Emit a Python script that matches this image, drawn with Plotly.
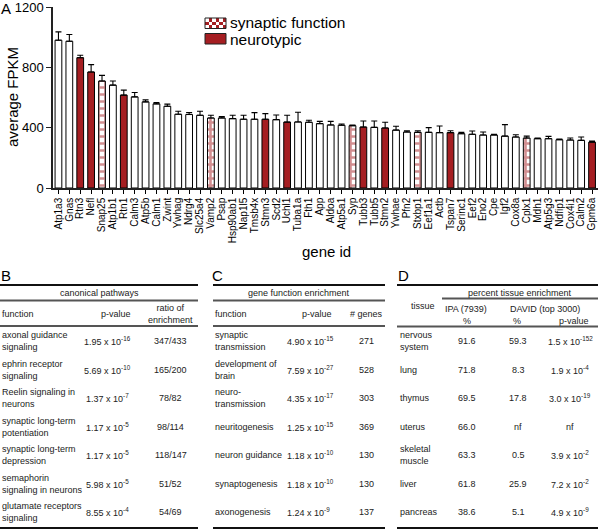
import plotly.graph_objects as go

W, H = 600, 529

# ---------------- data: panel A ----------------
genes = ["Atp1a3", "Gnas", "Rtn3", "Nefl", "Snap25", "Atp1b1", "Rtn1", "Calm3", "Atp5b", "Calm1",
         "Zwint", "Ywhag", "Ndrg4", "Slc25a4", "Vamp2", "Psap", "Hsp90ab1", "Nap1l5", "Tmsb4x", "Stmn3",
         "Scd2", "Uchl1", "Tuba1a", "Fth1", "App", "Aldoa", "Atp5a1", "Syp", "Tubb3", "Tubb5",
         "Stmn2", "Ywhae", "Pfn2", "Stxbp1", "Eef1a1", "Actb", "Tspan7", "Serinc1", "Eef2", "Eno2",
         "Cpe", "Igf2", "Cox8a", "Cplx1", "Mdh1", "Atp5g3", "Ndfip1", "Cox4i1", "Calm2", "Gpm6a"]
fpkm = [980, 973, 864, 769, 709, 682, 616, 604, 571, 558,
        542, 489, 487, 482, 464, 464, 460, 456, 456, 456,
        453, 437, 438, 436, 427, 418, 416, 413, 404, 402,
        398, 384, 371, 369, 369, 367, 367, 360, 356, 351,
        351, 344, 338, 331, 327, 327, 320, 318, 316, 304]
sem = [55, 45, 16, 49, 38, 27, 33, 29, 13, 9,
       14, 20, 13, 27, 18, 9, 22, 26, 44, 37,
       31, 45, 64, 13, 15, 24, 8, 5, 40, 42,
       38, 25, 9, 11, 31, 44, 13, 9, 22, 20,
       5, 76, 15, 13, 4, 15, 4, 13, 22, 7]
synaptic_genes = ["Snap25", "Vamp2", "Syp", "Stxbp1", "Cplx1"]
neurotypic_genes = ["Rtn3", "Nefl", "Rtn1", "Stmn3", "Uchl1", "Tubb3", "Stmn2", "Tspan7", "Gpm6a"]
y_ticks = [0, 400, 800, 1200]

# ---------------- data: tables ----------------
B_function = ["axonal guidance<br>signaling", "ephrin receptor<br>signaling", "Reelin signaling in<br>neurons",
              "synaptic long-term<br>potentiation", "synaptic long-term<br>depression",
              "semaphorin<br>signaling in neurons", "glutamate receptors<br>signaling"]
B_pmant = ["1.95", "5.69", "1.37", "1.17", "1.17", "5.98", "8.55"]
B_pexp = ["-16", "-10", "-7", "-5", "-5", "-5", "-4"]
B_ratio = ["347/433", "165/200", "78/82", "98/114", "118/147", "51/52", "54/69"]

C_function = ["synaptic<br>transmission", "development of<br>brain", "neuro-<br>transmission",
              "neuritogenesis", "neuron guidance", "synaptogenesis", "axonogenesis"]
C_pmant = ["4.90", "7.59", "4.35", "1.25", "1.18", "1.18", "1.24"]
C_pexp = ["-15", "-27", "-17", "-15", "-10", "-10", "-9"]
C_genes = ["271", "528", "303", "369", "130", "130", "137"]

D_tissue = ["nervous<br>system", "lung", "thymus", "uterus", "skeletal<br>muscle", "liver", "pancreas"]
D_ipa = ["91.6", "71.8", "69.5", "66.0", "63.3", "61.8", "38.6"]
D_david = ["59.3", "8.3", "17.8", "nf", "0.5", "25.9", "5.1"]
D_pmant = ["1.5", "1.9", "3.0", "nf", "3.9", "7.2", "4.9"]
D_pexp = ["-152", "-4", "-19", "", "-2", "-2", "-9"]

RED = "#A51E22"
FONT = "Liberation Sans, Arial, sans-serif"
TXT = "#222222"
TFS = 9  # table font size


def px(x):
    return x / W


def py(y):
    return 1 - y / H


def subset(names):
    idx = [i for i, g in enumerate(genes) if g in names]
    return ([genes[i] for i in idx], [fpkm[i] for i in idx], [sem[i] for i in idx])


other_genes = [g for g in genes if g not in synaptic_genes and g not in neurotypic_genes]

fig = go.Figure()

bar_w = 0.62
err_style = dict(type="data", symmetric=False, color="black", thickness=1.1, width=3)

for names, kind in [(other_genes, "other"), (neurotypic_genes, "neuro"), (synaptic_genes, "syn")]:
    xs, ys, es = subset(names)
    if kind == "other":
        marker = dict(color="white", line=dict(color="black", width=1))
    elif kind == "neuro":
        marker = dict(color=RED, line=dict(color="black", width=1))
    else:
        marker = dict(color="white", line=dict(color="black", width=1),
                      pattern=dict(shape="+", fgcolor=RED, bgcolor="white", size=7, solidity=0.6))
    fig.add_trace(go.Bar(x=xs, y=ys, width=bar_w, marker=marker,
                         error_y=dict(array=es, arrayminus=[0] * len(es), **err_style),
                         hoverinfo="skip", showlegend=False))

# legend checker swatch as a tiny heatmap
checker = [[(r + c) % 2 for c in range(6)] for r in range(3)]
fig.add_trace(go.Heatmap(z=checker, xaxis="x2", yaxis="y2", showscale=False,
                         colorscale=[[0, "white"], [1, RED]], hoverinfo="skip"))

fig.update_layout(
    width=W, height=H, margin=dict(l=0, r=0, t=0, b=0),
    paper_bgcolor="white", plot_bgcolor="white", showlegend=False,
    barmode="overlay", font=dict(family=FONT, color="black"),
    xaxis=dict(domain=[px(53), px(597.5)], type="category", categoryorder="array",
               categoryarray=genes, range=[-0.5, len(genes) - 0.5],
               tickmode="linear", tick0=0, dtick=1,
               tickangle=-90, tickfont=dict(size=10, color="black", family=FONT),
               ticks="outside", ticklen=4, tickwidth=1, tickcolor="black",
               showline=True, linecolor="#222", linewidth=1.5, showgrid=False,
               automargin=False, fixedrange=True, ticklabeloverflow="allow"),
    yaxis=dict(domain=[py(188), py(7)], range=[0, 1200], tickvals=y_ticks,
               tickfont=dict(size=13, color="black", family=FONT),
               ticks="outside", ticklen=5, tickwidth=1.2, tickcolor="#222",
               showline=True, linecolor="#222", linewidth=1.5, showgrid=False,
               zeroline=False, automargin=False, fixedrange=True, ticklabeloverflow="allow"),
    xaxis2=dict(domain=[px(205), px(226)], anchor="y2", visible=False, fixedrange=True),
    yaxis2=dict(domain=[py(28.5), py(18)], anchor="x2", visible=False, fixedrange=True),
)

ann = []
shapes = []


def text(x, y, s, size=TFS, xanchor="center", align="center", color=TXT, angle=0):
    ann.append(dict(x=px(x), y=py(y), xref="paper", yref="paper", text=s, showarrow=False,
                    xanchor=xanchor, yanchor="middle", align=align, textangle=angle,
                    font=dict(size=size, color=color, family=FONT), borderpad=0))


def hline(x0, x1, y, color="#333", width=2):
    shapes.append(dict(type="line", xref="paper", yref="paper", x0=px(x0), x1=px(x1),
                       y0=py(y), y1=py(y), line=dict(color=color, width=width)))


def sci(m, e):
    if e == "":
        return m
    return f"{m} x 10<sup>{e}</sup>"


# panel A labels
text(6, 8, "A", size=15, color="black")
text(13, 97, "average FPKM", size=15, color="black", angle=-90)
text(326, 251, "gene id", size=15, color="black")

# legend
shapes.append(dict(type="rect", xref="paper", yref="paper", x0=px(205), x1=px(226),
                   y0=py(28.5), y1=py(18), line=dict(color="#222", width=1)))
shapes.append(dict(type="rect", xref="paper", yref="paper", x0=px(205), x1=px(226),
                   y0=py(44), y1=py(33.5), fillcolor=RED, line=dict(color="#222", width=1)))
text(229, 23, "synaptic function", size=15.5, xanchor="left", color="black")
text(229, 39, "neurotypic", size=15.5, xanchor="left", color="black")

# panel letters
text(6, 275, "B", size=15, color="black")
text(217, 275, "C", size=15, color="black")
text(403, 275, "D", size=15, color="black")

row_y = [341 + 28.5 * i for i in range(7)]

# ---- table B ----
hline(0, 198, 285, color="#111", width=2)
text(99, 293, "canonical pathways")
hline(0, 198, 300.5, color="#555", width=2)
text(1, 314, "function", xanchor="left", align="left")
text(116, 314, "p-value")
text(171, 313.5, "ratio of<br>enrichment")
hline(0, 198, 326, color="#555", width=2)
for i in range(7):
    text(1, row_y[i], B_function[i], xanchor="left", align="left")
    text(107, row_y[i], sci(B_pmant[i], B_pexp[i]))
    text(171, row_y[i], B_ratio[i])
hline(0, 198, 528, color="#111", width=2)

# ---- table C ----
hline(213, 385, 285, color="#111", width=2)
text(299, 293, "gene function enrichment")
hline(213, 385, 300.5, color="#555", width=2)
text(214, 314, "function", xanchor="left", align="left")
text(317, 314, "p-value")
text(366, 314, "# genes")
hline(213, 385, 326, color="#555", width=2)
for i in range(7):
    text(214, row_y[i], C_function[i], xanchor="left", align="left")
    text(286, row_y[i], sci(C_pmant[i], C_pexp[i]), xanchor="left", align="left")
    text(366, row_y[i], C_genes[i])
hline(213, 385, 528, color="#111", width=2)

# ---- table D ----
hline(397, 598, 285, color="#111", width=2)
text(520, 293, "percent tissue enrichment")
hline(442, 598, 298.5, color="#555", width=2)
text(423, 306, "tissue")
text(466, 308.5, "IPA (7939)")
text(467, 320.5, "%")
text(545, 308.5, "DAVID (top 3000)")
text(517, 320.5, "%")
text(574, 320.5, "p-value")
hline(397, 598, 326.5, color="#555", width=2)
for i in range(7):
    text(399, row_y[i], D_tissue[i], xanchor="left", align="left")
    text(467, row_y[i], D_ipa[i])
    text(518, row_y[i], D_david[i])
    text(570, row_y[i], sci(D_pmant[i], D_pexp[i]))
hline(397, 598, 528, color="#111", width=2)

fig.update_layout(annotations=ann, shapes=shapes)
fig.write_html("out.html", config={"displayModeBar": False},
               post_script="document.body.style.margin='0';document.body.style.overflow='hidden';")
